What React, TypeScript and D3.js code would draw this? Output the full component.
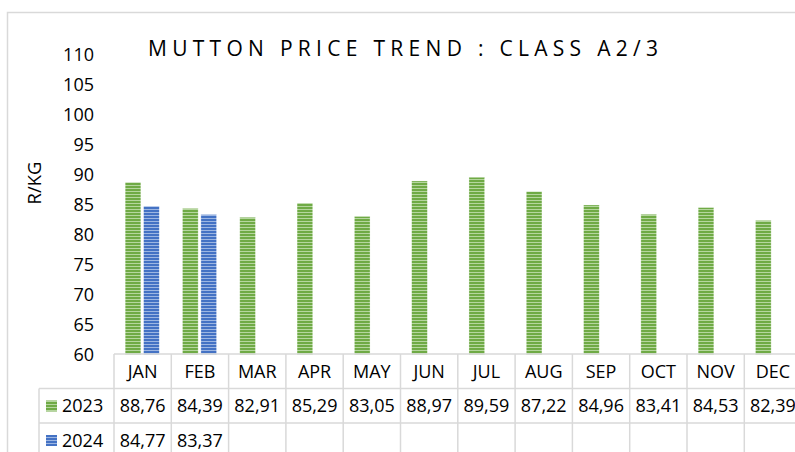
import React from "react";
import * as d3 from "d3";

const months = ["JAN", "FEB", "MAR", "APR", "MAY", "JUN", "JUL", "AUG", "SEP", "OCT", "NOV", "DEC"];
const series2023 = [88.76, 84.39, 82.91, 85.29, 83.05, 88.97, 89.59, 87.22, 84.96, 83.41, 84.53, 82.39];
const series2024: (number | null)[] = [84.77, 83.37, null, null, null, null, null, null, null, null, null, null];
const seriesNames = ["2023", "2024"];
const yTicks = [60, 65, 70, 75, 80, 85, 90, 95, 100, 105, 110];
const title = "MUTTON PRICE TREND : CLASS A2/3";

const FONT = "'Open Sans', 'Liberation Sans', sans-serif";
const GRID = "#d9d9d9";

export default function App() {
  const W = 795, H = 452;
  const x0 = 114, x1 = 801.6;
  const x = d3.scaleBand<string>().domain(months).range([x0, x1]).padding(0);
  const bw = x.bandwidth();
  const xs = d3.scaleBand<string>().domain(seriesNames).range([bw * 0.195, bw * 0.79]).paddingInner(0.15).paddingOuter(0);
  const y = d3.scaleLinear().domain([60, 110]).range([354.5, 55]);
  const rowTop = 354, rowH = 34.5;
  const fmt = (v: number) => v.toFixed(2).replace(".", ",");
  const data = [series2023, series2024];
  const fills = ["url(#pGreen)", "url(#pBlue)"];

  return (
    <svg width={W} height={H} style={{ display: "block", position: "absolute", left: 0, top: 0 }} fontFamily={FONT}>
      <defs>
        <pattern id="pGreen" patternUnits="userSpaceOnUse" width="4" height="3">
          <rect width="4" height="3" fill="#b5d69e" />
          <rect width="4" height="2" fill="#6faa45" />
        </pattern>
        <pattern id="pBlue" patternUnits="userSpaceOnUse" width="4" height="3">
          <rect width="4" height="3" fill="#9db6e2" />
          <rect width="4" height="2" fill="#4472c4" />
        </pattern>
      </defs>
      <rect x={0} y={0} width={W} height={H} fill="#fff" />
      <rect x={7.5} y={12.5} width={W + 20} height={H + 20} fill="none" stroke={GRID} strokeWidth={1.5} />

      <text x={148} y={56} fontSize={21} textLength={510} lengthAdjust="spacing" fill="#000">{title}</text>

      <text transform={`translate(41,183) rotate(-90)`} textAnchor="middle" fontSize={18.5} fill="#000">R/KG</text>

      {yTicks.map((t) => (
        <text key={t} x={94} y={y(t)} dy="0.36em" textAnchor="end" fontSize={18} fill="#000">{t}</text>
      ))}

      {data.map((s, si) =>
        s.map((v, i) =>
          v == null ? null : (
            <rect key={`${si}-${i}`}
              x={(x(months[i]) as number) + (xs(seriesNames[si]) as number)}
              y={y(v)}
              width={xs.bandwidth()}
              height={y(60) - y(v)}
              fill={fills[si]}
              stroke="#ffffff" strokeOpacity={0.5} strokeWidth={0.6}
            />
          )
        )
      )}

      <g stroke={GRID} strokeWidth={1.5} fill="none">
        <line x1={x0} x2={x1 + 10} y1={rowTop} y2={rowTop} />
        <line x1={39} x2={x1 + 10} y1={rowTop + rowH} y2={rowTop + rowH} />
        <line x1={39} x2={x1 + 10} y1={rowTop + rowH * 2} y2={rowTop + rowH * 2} />
        <line x1={39} x2={39} y1={rowTop + rowH} y2={H + 10} />
        {months.map((m) => (
          <line key={m} x1={x(m) as number} x2={x(m) as number} y1={rowTop} y2={H + 10} />
        ))}
        <line x1={x1} x2={x1} y1={rowTop} y2={H + 10} />
      </g>

      {months.map((m) => (
        <text key={m} x={(x(m) as number) + bw / 2} y={rowTop + rowH / 2} dy="0.36em" textAnchor="middle" fontSize={18} fill="#000">{m}</text>
      ))}

      {data.map((s, si) => (
        <g key={si}>
          <rect x={46} y={rowTop + rowH * (si + 1) + 12} width={11} height={11} fill={fills[si]} />
          <text x={62} y={rowTop + rowH * (si + 1) + rowH / 2} dy="0.36em" fontSize={18} fill="#000">{seriesNames[si]}</text>
          {s.map((v, i) =>
            v == null ? null : (
              <text key={i} x={(x(months[i]) as number) + bw / 2} y={rowTop + rowH * (si + 1) + rowH / 2} dy="0.36em" textAnchor="middle" fontSize={18} fill="#000">{fmt(v)}</text>
            )
          )}
        </g>
      ))}
    </svg>
  );
}
